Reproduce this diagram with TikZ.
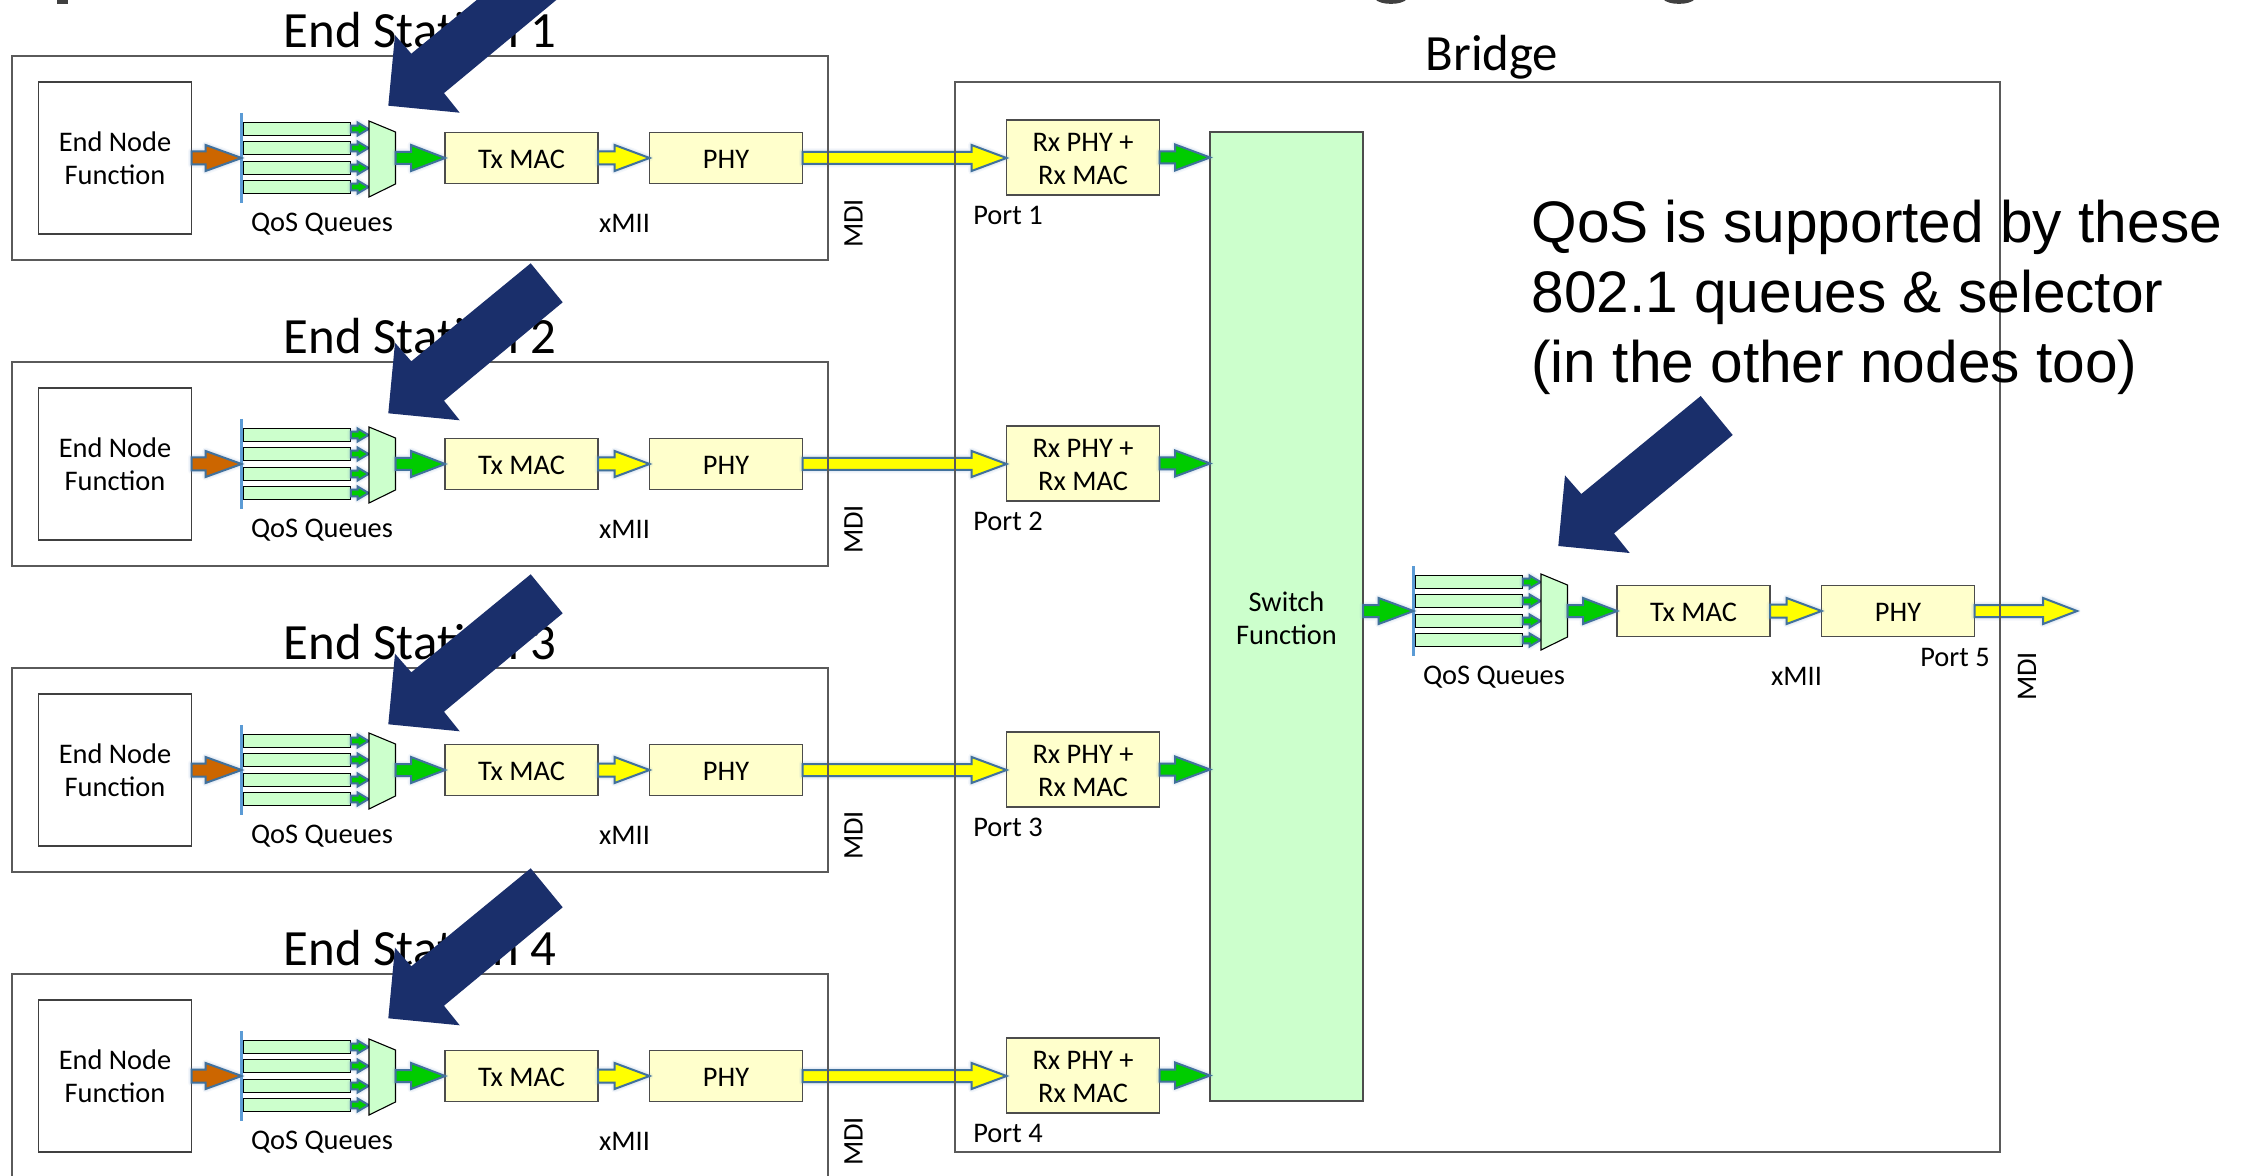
\documentclass[tikz,border=0pt]{standalone}
\usepackage{fontspec}
\setmainfont{Carlito}
\newfontfamily\arialfont{Liberation Sans}
\usetikzlibrary{calc}
\definecolor{qgreen}{HTML}{CCFFCC}
\definecolor{pale}{HTML}{FFFFCC}
\definecolor{aline}{HTML}{41719C}
\definecolor{ashadow}{HTML}{6C93C8}
\definecolor{agreen}{HTML}{00CC00}
\definecolor{ayellow}{HTML}{FFFF00}
\definecolor{aorange}{HTML}{CC6600}
\definecolor{navy}{HTML}{1A2F6B}
\definecolor{barblue}{HTML}{5B9BD5}
\definecolor{frame}{HTML}{5A5A5A}
\definecolor{ink}{HTML}{404040}
\newcommand\low[1]{\raisebox{-0.75pt}[\height][\depth]{#1}}
\tikzset{
 lab/.style={font=\fontsize{14.2}{16.5}\selectfont,align=center,inner sep=0pt,text=black},
 titlelab/.style={font=\fontsize{25.4}{30}\selectfont,inner sep=0pt,text=black},
 sizedbox/.style 2 args={minimum width=#1*0.5pt,minimum height=#2*0.5pt,inner sep=0pt,outer sep=0pt},
 palebox/.style 2 args={sizedbox={#1}{#2},draw=black!70,line width=0.6pt,fill=pale,lab},
 framebox/.style 2 args={sizedbox={#1}{#2},draw=frame,line width=0.75pt},
 plainbox/.style 2 args={sizedbox={#1}{#2},draw=black!75,line width=0.6pt,lab},
 queue/.style={sizedbox={107.5}{13.5},draw=black,line width=0.55pt,fill=qgreen},
 bararrow/.style={draw=aline,line width=1pt,line join=miter},
 pointer/.style={fill=navy,draw=none},
}
% fill colour, from, to, shaft half-height, head half-height, head length (px)
\newcommand\blockarrow[6]{%
 \foreach \wd/\op/\sh in {7/.07/3,4.5/.09/3,2/.12/2}{%
  \draw[draw=ashadow,line width=\wd*0.5pt,opacity=\op,line join=round,yshift=-\sh*0.5pt]
   let \p1=(#2),\p2=(#3) in
   (\x1,\y1+#4*0.5pt) -- (\x2-#6*0.5pt,\y1+#4*0.5pt) -- (\x2-#6*0.5pt,\y1+#5*0.5pt) -- (\x2,\y1)
   -- (\x2-#6*0.5pt,\y1-#5*0.5pt) -- (\x2-#6*0.5pt,\y1-#4*0.5pt) -- (\x1,\y1-#4*0.5pt) -- cycle;
 }%
 \draw[bararrow,fill=#1]
   let \p1=(#2),\p2=(#3) in
   (\x1,\y1+#4*0.5pt) -- (\x2-#6*0.5pt,\y1+#4*0.5pt) -- (\x2-#6*0.5pt,\y1+#5*0.5pt) -- (\x2,\y1)
   -- (\x2-#6*0.5pt,\y1-#5*0.5pt) -- (\x2-#6*0.5pt,\y1-#4*0.5pt) -- (\x1,\y1-#4*0.5pt) -- cycle;
}
% queues + selector + Tx MAC + PHY, in station coordinates
\newcommand\txchain[1]{%
 \coordinate (bar#1) at (241.5,158);
 \coordinate (muxout#1) at (395.5,158);
 \foreach \q/\yy in {a/129,b/148,c/168,d/187}{%
  \node[queue] (q#1\q) at (297,\yy) {};
  \coordinate (mi#1\q) at (368.5,\yy);
  \blockarrow{agreen}{q#1\q.east}{mi#1\q}{3.3}{6.5}{11}
 }
 \draw[line width=0.55pt,draw=black,fill=qgreen] (369,121) -- (395.5,132) -- (395.5,184) -- (369,197) -- cycle;
 \draw[draw=barblue,line width=1.3pt] (241.5,113) -- (241.5,203);
 \node[lab] (qos#1) at (322,224) {QoS Queues};
 \node[palebox={153}{51}] (tx#1) at (521.5,158) {\low{Tx MAC}};
 \node[palebox={153}{51}] (phy#1) at (726,158) {\low{PHY}};
 \blockarrow{agreen}{muxout#1}{tx#1.west}{6}{13}{34}
 \blockarrow{ayellow}{tx#1.east}{phy#1.west}{6.5}{13}{35}
 \node[lab] (xmii#1) at (624.5,223.5) {xMII};
}
\newcommand\pointerarrow[2]{%
 \fill[pointer,shift={(#1,#2)}] (530.7,263.3) -- (562.7,302.3) -- (444,400.7) -- (459.7,420.3)
   -- (388.3,413.3) -- (395,342.7) -- (411.3,361.3) -- cycle;
}
\begin{document}
\begin{tikzpicture}[x=0.5pt,y=-0.5pt]
\useasboundingbox (0,0) rectangle (2254,1176);
\clip (0,0) rectangle (2254,1176);
\fill[white] (0,0) rectangle (2254,1176);
% cut-off letters of the slide title
\fill[ink] (56.7,0) rectangle (67.7,3.7);
\fill[ink] (1375,-1) .. controls (1380,5.5) and (1402,5.5) .. (1407,-1) -- cycle;
\fill[ink] (1663,-1) .. controls (1668,5.5) and (1690,5.5) .. (1695,-1) -- cycle;
% bridge parts
\node[sizedbox={153}{969},draw=black!70,line width=0.6pt,fill=qgreen,lab] (switch) at (1286.5,616.5) {\low{Switch}\\\low{Function}};
\foreach \i/\dy in {1/0,2/306,3/612,4/918}{%
 \begin{scope}[shift={(0,\dy)}]
  \node[plainbox={153}{152}] (end\i) at (115,158) {End Node\\Function};
  \txchain{\i}
  \blockarrow{aorange}{end\i.east}{bar\i}{6.5}{13}{36}
  \node[palebox={153}{75}] (rx\i) at (1083,157.5) {\low{Rx PHY +}\\\low{Rx MAC}};
  \blockarrow{ayellow}{phy\i.east}{rx\i.west}{6}{13}{35}
  \blockarrow{agreen}{rx\i.east}{rx\i.east -| switch.west}{6}{13}{35}
  \node[framebox={816}{204}] (station\i) at (420,158) {};
  \node[titlelab] (title\i) at (420,30) {End Station \i};
  \node[lab,rotate=90] (mdi\i) at (853.5,223.5) {MDI};
  \node[lab] (port\i) at (1008,215.5) {Port \i};
 \end{scope}
}
\begin{scope}[shift={(1172,453)}]
 \txchain{5}
 \coordinate (out5) at (905,158);
\end{scope}
\blockarrow{agreen}{switch.east |- bar5}{bar5}{6}{13}{35}
\blockarrow{ayellow}{phy5.east}{out5}{6}{13}{34}
\node[sizedbox={1045}{1070},draw=frame,line width=0.75pt] (bridge) at (1477.5,617) {};
\node[titlelab] (bridgetitle) at (1492,57.5) {Bridge};
\node[lab,rotate=90] (mdi5) at (2027,676.5) {MDI};
\node[lab] (port5) at (1955,657.5) {Port 5};
\node[font=\arialfont\fontsize{29.3}{35}\selectfont,align=left,inner sep=0pt,anchor=west,text=black] (note) at (1531,297)
 {QoS is supported by these\\802.1 queues \& selector\\(in the other nodes too)};
% big pointers
\pointerarrow{0}{-307.6}
\pointerarrow{0}{0}
\pointerarrow{0}{311}
\pointerarrow{0}{605}
\pointerarrow{1170}{132.7}
\end{tikzpicture}
\end{document}
